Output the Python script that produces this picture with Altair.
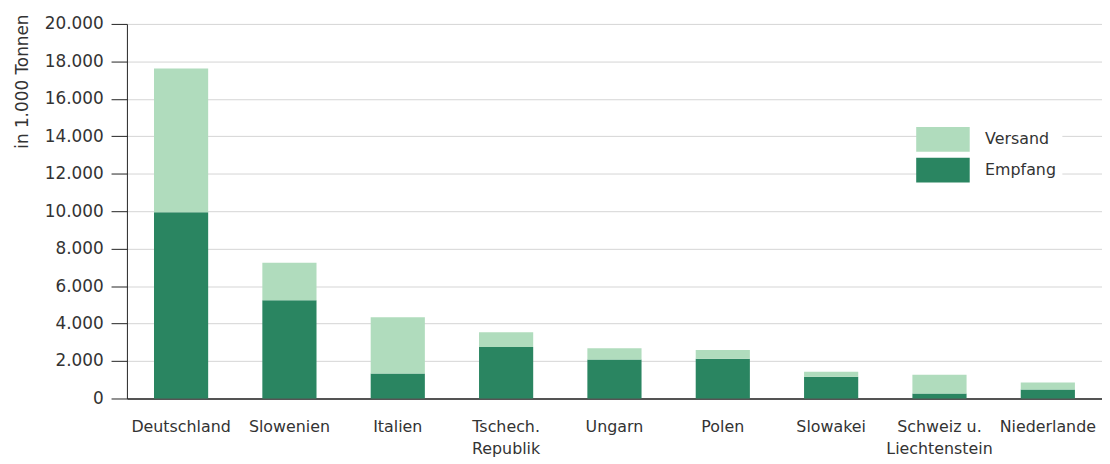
import altair as alt
import pandas as pd

countries = ["Deutschland", "Slowenien", "Italien", "Tschech.|Republik", "Ungarn",
             "Polen", "Slowakei", "Schweiz u.|Liechtenstein", "Niederlande"]
empfang = [9950, 5250, 1330, 2750, 2080, 2120, 1160, 260, 480]
versand_total = [17620, 7250, 4340, 3540, 2680, 2590, 1430, 1270, 850]
versand = [t - e for t, e in zip(versand_total, empfang)]

rows = []
for c, e, v in zip(countries, empfang, versand):
    rows.append({"Land": c, "Art": "Empfang", "Wert": e, "ord": 0})
    rows.append({"Land": c, "Art": "Versand", "Wert": v, "ord": 1})
df = pd.DataFrame(rows)

FONT = "DejaVu Sans"
TXT = "#333333"

chart = alt.Chart(df).mark_bar().encode(
    x=alt.X("Land:N", sort=countries,
            scale=alt.Scale(paddingInner=0.5, paddingOuter=0.25),
            axis=alt.Axis(title=None, labelAngle=0, ticks=False,
                          labelExpr="split(datum.label, '|')",
                          labelFontSize=16, labelLineHeight=23,
                          labelPadding=20, domainColor="#222222",
                          domainWidth=1.5, labelColor=TXT, labelFont=FONT)),
    y=alt.Y("Wert:Q", stack="zero",
            scale=alt.Scale(domain=[0, 20000], nice=False),
            axis=alt.Axis(values=list(range(0, 20001, 2000)),
                          labelExpr="replace(format(datum.value, ',d'), ',', '.')",
                          title="in 1.000 Tonnen", titleAngle=-90,
                          titleX=-113, titleY=-10, titleAlign="right",
                          titleBaseline="top", titleFontSize=17,
                          titleFontWeight="normal", titleColor=TXT, titleFont=FONT,
                          tickSize=16, tickColor="#222222", domainColor="#222222",
                          labelPadding=8, labelFontSize=17, labelColor=TXT,
                          labelFont=FONT, gridColor="#d4d4d4")),
    color=alt.Color("Art:N",
                    scale=alt.Scale(domain=["Versand", "Empfang"],
                                    range=["#b0dcbd", "#2a8561"]),
                    legend=alt.Legend(title=None, orient="none", legendX=805,
                                      legendY=98,
                                      symbolType="M-2.16,-1L2.16,-1L2.16,1L-2.16,1Z",
                                      symbolSize=625, symbolStrokeWidth=0,
                                      symbolOpacity=1, labelOffset=30,
                                      labelFontSize=16, labelColor=TXT,
                                      labelFont=FONT, rowPadding=6,
                                      fillColor="white", padding=6)),
    order=alt.Order("ord:Q"),
).properties(width=984, height=378, padding={"left": 5, "top": 4, "right": 0, "bottom": 0}
).configure_view(stroke=None)

chart.save("out.html", embed_options={"renderer": "svg", "actions": False})
